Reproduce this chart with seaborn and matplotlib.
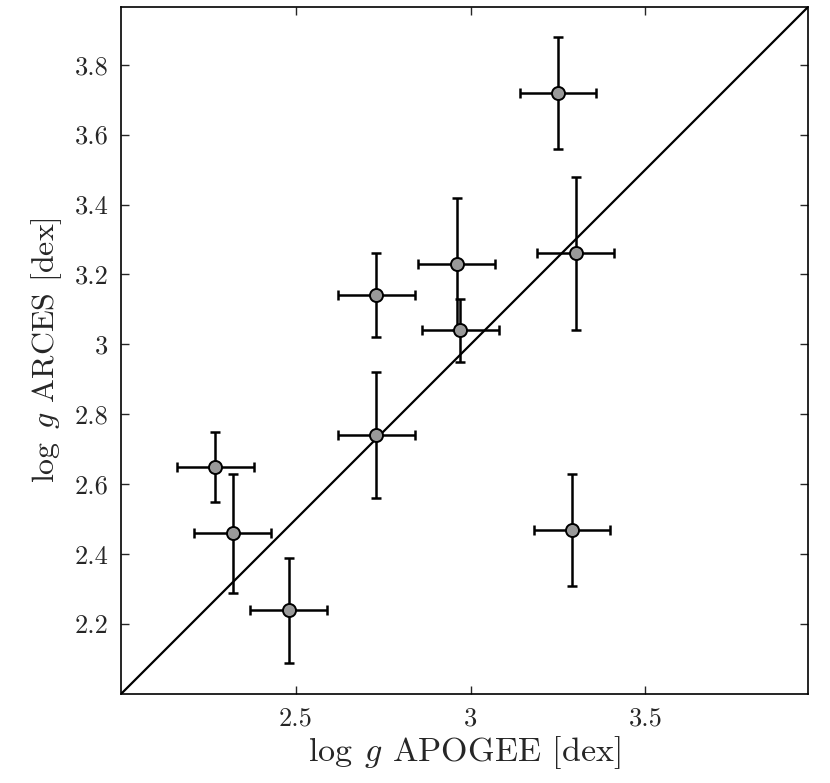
import numpy as np
import pandas as pd
import matplotlib
matplotlib.use("Agg")
import matplotlib.pyplot as plt
import seaborn as sns
from matplotlib.ticker import FuncFormatter, FixedLocator

# data
logg_apogee = [3.25, 3.30, 2.96, 2.97, 2.73, 2.73, 2.27, 2.32, 2.48, 3.29]
logg_arces = [3.72, 3.26, 3.23, 3.04, 3.14, 2.74, 2.65, 2.46, 2.24, 2.47]
err_apogee = [0.11, 0.11, 0.11, 0.11, 0.11, 0.11, 0.11, 0.11, 0.11, 0.11]
err_arces = [0.16, 0.22, 0.19, 0.09, 0.12, 0.18, 0.10, 0.17, 0.15, 0.16]
x_ticks = [2.5, 3.0, 3.5]
y_ticks = [2.2, 2.4, 2.6, 2.8, 3.0, 3.2, 3.4, 3.6, 3.8]
axis_limits = [2.0, 3.965]

df = pd.DataFrame({"apogee": logg_apogee, "arces": logg_arces,
                   "xerr": err_apogee, "yerr": err_arces})

sns.set_style("ticks")
plt.rcParams["font.family"] = ["serif"]
plt.rcParams["font.serif"] = ["cmr10", "DejaVu Serif"]
plt.rcParams["mathtext.fontset"] = "cm"
plt.rcParams["axes.unicode_minus"] = False

fig = plt.figure(figsize=(8.3, 7.83), dpi=100)
ax = fig.add_axes([121/830, 1-694/783, (808-121)/830, (694-7)/783])

ax.axline((0, 0), slope=1, color="black", lw=1.6, zorder=1)
ax.errorbar(df["apogee"], df["arces"], xerr=df["xerr"], yerr=df["yerr"],
            fmt="none", ecolor="black", elinewidth=1.8, capsize=3.8,
            capthick=1.8, zorder=2)
sns.scatterplot(data=df, x="apogee", y="arces", ax=ax, s=88,
                color="#999999", edgecolor="black", linewidth=1.4, zorder=3)

ax.set_xlim(axis_limits)
ax.set_ylim(axis_limits)
ax.xaxis.set_major_locator(FixedLocator(x_ticks))
ax.yaxis.set_major_locator(FixedLocator(y_ticks))
fmt = FuncFormatter(lambda v, p: "%g" % v)
ax.xaxis.set_major_formatter(fmt)
ax.yaxis.set_major_formatter(fmt)
ax.tick_params(direction="in", length=6, width=1, top=True, right=True,
               labelsize=19, pad=9)
for s in ax.spines.values():
    s.set_linewidth(1.2)
    s.set_color("black")

ax.set_xlabel(r"$\log\;g$ APOGEE [dex]", fontsize=24.5, labelpad=3)
ax.set_ylabel(r"$\log\ g$ ARCES [dex]", fontsize=23, labelpad=8)

fig.savefig("out.png", dpi=100)
